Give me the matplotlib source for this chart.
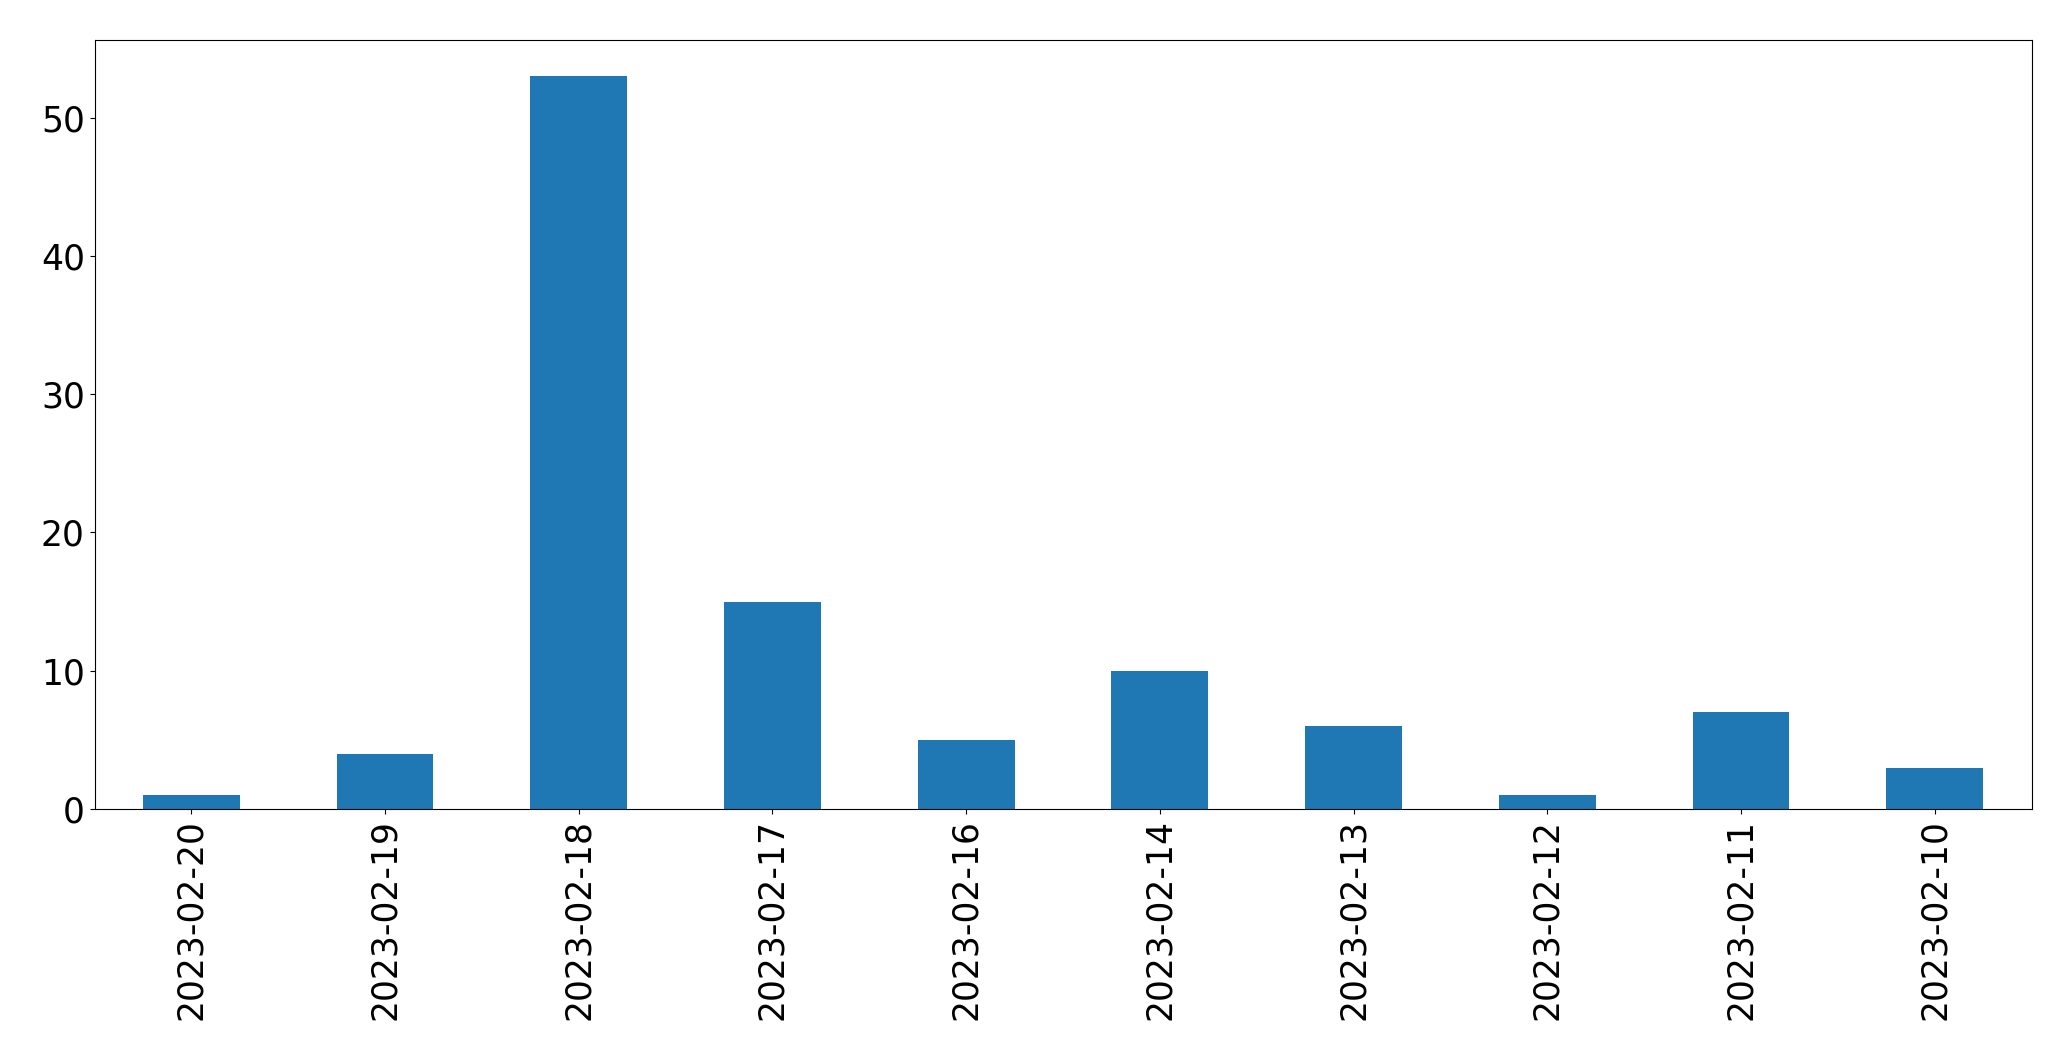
import matplotlib
matplotlib.use('Agg')
import matplotlib.pyplot as plt
import pandas as pd

dates = ['2023-02-20', '2023-02-19', '2023-02-18', '2023-02-17', '2023-02-16',
         '2023-02-14', '2023-02-13', '2023-02-12', '2023-02-11', '2023-02-10']
counts = [1, 4, 53, 15, 5, 10, 6, 1, 7, 3]


def counts_bar(series):
    fig = plt.figure(figsize=(20.71, 10.61), dpi=100)
    axs = fig.add_axes([94.5 / 2071, 1 - 809 / 1061, (2031.5 - 94.5) / 2071, (809 - 39.5) / 1061])
    series.plot.bar(ax=axs, fontsize=24.9, color='#1f77b4')
    return fig


if __name__ == '__main__':
    s = pd.Series(counts, index=dates)
    fig = counts_bar(s)
    fig.savefig('out.png', dpi=100)
